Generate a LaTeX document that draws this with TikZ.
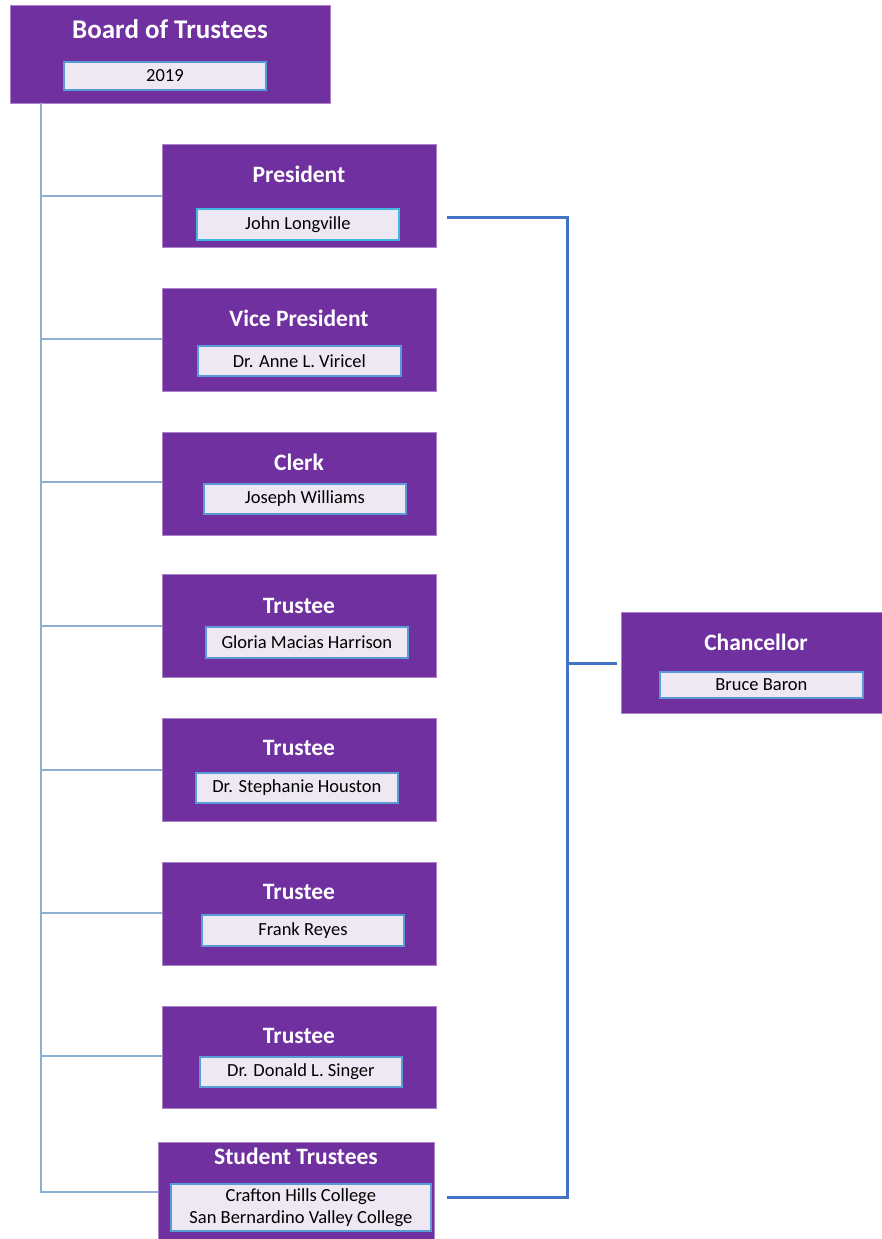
\documentclass[tikz,border=0pt]{standalone}
\usepackage{fontspec}
\setmainfont{Carlito}
\definecolor{boxpurple}{HTML}{7030A0}
\definecolor{innerfill}{HTML}{EEE8F4}
\definecolor{innerline}{HTML}{5B9BD5}
\definecolor{leftline}{HTML}{8EAFD4}
\definecolor{rightline}{HTML}{4472C4}
\begin{document}
\begin{tikzpicture}[x=1pt,y=-1pt,
  outerbox/.style={draw=boxpurple!60,fill=boxpurple,line width=0.8pt,anchor=north west,inner sep=0pt},
  titletext/.style={text=white,font=\bfseries\fontsize{23.5}{28}\selectfont,inner sep=0pt,anchor=center},
  namebox/.style={draw=innerline,fill=innerfill,line width=1.8pt,anchor=north west,inner sep=0pt,
     font=\fontsize{18.5}{22}\selectfont,align=center},
  leftconn/.style={draw=leftline,line width=2.2pt},
  rightconn/.style={draw=rightline,line width=3pt}]
\useasboundingbox (0,0) rectangle (882,1239);

% Board of Trustees
\node[outerbox,minimum width=320pt,minimum height=98pt] (board) at (10,5) {};
\node[titletext,font=\bfseries\fontsize{27}{32}\selectfont] (boardt) at (170,29) {Board of Trustees};
\node[namebox,minimum width=202pt,minimum height=28pt] (boardn) at (63,61) {};
\node[font=\fontsize{18.5}{22}\selectfont] at (boardn.center) {2019};

% member boxes
\node[outerbox,minimum width=274pt,minimum height=103pt] (pres) at (162,144) {};
\node[titletext] (prest) at (299,174) {President};
\node[namebox,minimum width=202pt,minimum height=31pt,draw=innerline!70!cyan] (presn) at (196,208) {John Longville};

\node[outerbox,minimum width=274pt,minimum height=103pt] (vp) at (162,288) {};
\node[titletext] (vpt) at (299,318) {Vice President};
\node[namebox,minimum width=203pt,minimum height=30pt] (vpn) at (197,345) {Dr. Anne L. Viricel};

\node[outerbox,minimum width=274pt,minimum height=103pt] (clerk) at (162,432) {};
\node[titletext] (clerkt) at (299,462) {Clerk};
\node[namebox,minimum width=202pt,minimum height=30pt] (clerkn) at (203,483) {Joseph Williams};

\node[outerbox,minimum width=274pt,minimum height=103pt] (tr1) at (162,574) {};
\node[titletext] (tr1t) at (299,606) {Trustee};
\node[namebox,minimum width=202pt,minimum height=31pt] (tr1n) at (205,626) {Gloria Macias Harrison};

\node[outerbox,minimum width=274pt,minimum height=103pt] (tr2) at (162,718) {};
\node[titletext] (tr2t) at (299,748) {Trustee};
\node[namebox,minimum width=202pt,minimum height=30pt] (tr2n) at (195,772) {Dr. Stephanie Houston};

\node[outerbox,minimum width=274pt,minimum height=103pt] (tr3) at (162,862) {};
\node[titletext] (tr3t) at (299,892) {Trustee};
\node[namebox,minimum width=202pt,minimum height=31pt] (tr3n) at (201,914) {Frank Reyes};

\node[outerbox,minimum width=274pt,minimum height=102pt] (tr4) at (162,1006) {};
\node[titletext] (tr4t) at (299,1036) {Trustee};
\node[namebox,minimum width=202pt,minimum height=30pt] (tr4n) at (199,1056) {Dr. Donald L. Singer};

\node[outerbox,minimum width=276pt,minimum height=97pt] (stud) at (158,1142) {};
\node[titletext] (studt) at (296,1156) {Student Trustees};
\node[namebox,minimum width=260pt,minimum height=47pt,font=\fontsize{18.5}{22}\selectfont] (studn) at (170,1183) {Crafton Hills College\\San Bernardino Valley College};

% Chancellor
\node[outerbox,minimum width=261pt,minimum height=101pt] (chan) at (621,612) {};
\node[titletext] (chant) at (756,642) {Chancellor};
\node[namebox,minimum width=203pt,minimum height=26pt] (chann) at (659,671) {Bruce Baron};

% left trunk
\coordinate (ltop) at (41,103);
\coordinate (lbot) at (41,1192);
\coordinate (l1) at (41,196);
\coordinate (l2) at (41,339);
\coordinate (l3) at (41,482);
\coordinate (l4) at (41,626);
\coordinate (l5) at (41,770);
\coordinate (l6) at (41,913);
\coordinate (l7) at (41,1056);
\draw[leftconn] (ltop) -- (lbot) -- (lbot -| stud.west);
\draw[leftconn] (l1) -- (l1 -| pres.west);
\draw[leftconn] (l2) -- (l2 -| vp.west);
\draw[leftconn] (l3) -- (l3 -| clerk.west);
\draw[leftconn] (l4) -- (l4 -| tr1.west);
\draw[leftconn] (l5) -- (l5 -| tr2.west);
\draw[leftconn] (l6) -- (l6 -| tr3.west);
\draw[leftconn] (l7) -- (l7 -| tr4.west);

% right bracket
\coordinate (rtop) at (567,217);
\coordinate (rbot) at (567,1197);
\coordinate (rmid) at (567,663);
\coordinate (rpresend) at (447,217);
\coordinate (rstudend) at (447,1197);
\coordinate (rchanend) at (617,663);
\draw[rightconn] (rpresend) -- (rtop) -- (rbot) -- (rstudend);
\draw[rightconn] (rmid) -- (rchanend);
\end{tikzpicture}
\end{document}
